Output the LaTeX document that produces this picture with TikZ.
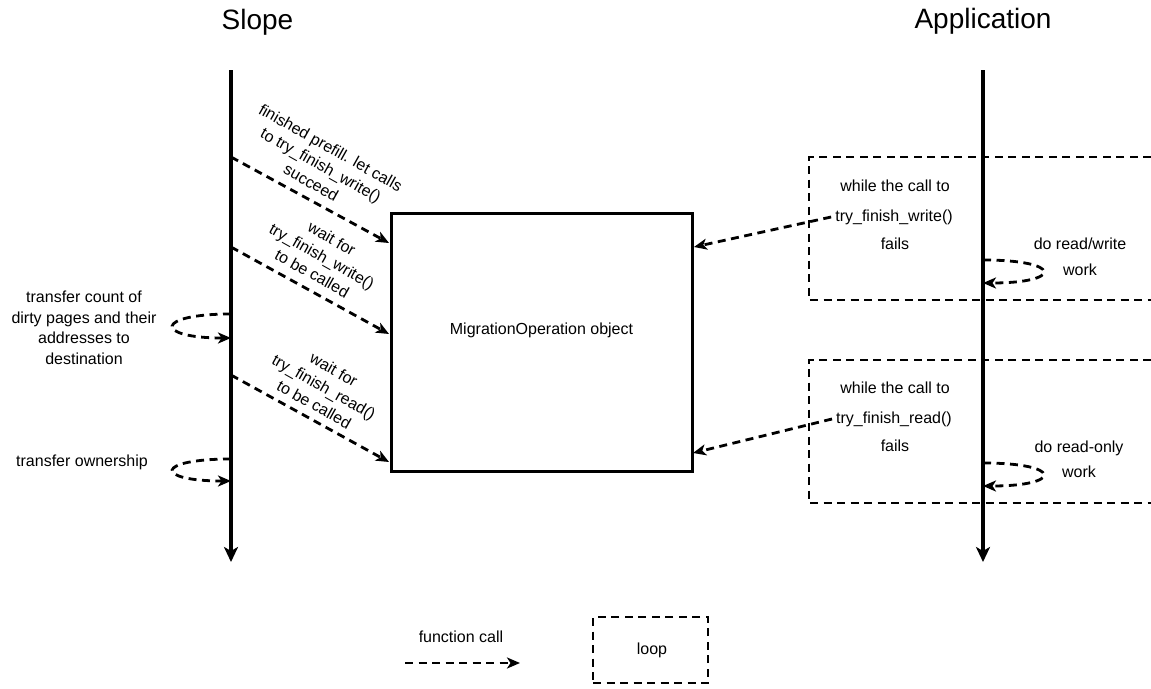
\documentclass[tikz,border=0pt]{standalone}
\usepackage{fontspec}
\setmainfont{Liberation Sans}
\usetikzlibrary{arrows.meta}

\tikzset{
  txt/.style={font=\fontsize{16}{20}\selectfont, inner sep=4pt, text height=12pt, text depth=3pt},
  mtxt/.style={font=\fontsize{16}{20}\selectfont, align=center, inner sep=0pt},
  title/.style={font=\fontsize{28}{32}\selectfont, anchor=base, inner sep=0pt},
  lifeline/.style={line width=3.2pt, -{Stealth[length=15pt,width=14pt,inset=4pt]}},
  callarrow/.style={line width=2.8pt, dash pattern=on 8pt off 5.5pt, -{Stealth[length=13pt,width=11pt,inset=3.5pt]}},
  loopbox/.style={line width=2.8pt, dash pattern=on 8pt off 5.5pt},
  objbox/.style={draw, line width=3pt, minimum width=301pt, minimum height=258pt, inner sep=0pt},
}

\begin{document}
\begin{tikzpicture}[x=1pt, y=-1pt]
  \useasboundingbox (0,0) rectangle (1151,688);

  % participants
  \node[title] (slope) at (257.5,29) {Slope};
  \node[title] (app) at (983,28) {Application};

  \coordinate (stop) at (231,70);
  \coordinate (sbot) at (231,562);
  \coordinate (atop) at (983,70);
  \coordinate (abot) at (983,562);
  \draw[lifeline] (stop) -- (sbot);
  \draw[lifeline] (atop) -- (abot);

  % shared object
  \node[objbox] (mig) at (541.5,342) {};
  \node[txt] (migtxt) at (541.5,330) {MigrationOperation object};

  % calls from Slope into the object
  \coordinate (s1) at (231,157);
  \coordinate (m1) at (389,243);
  \coordinate (s2) at (231,247);
  \coordinate (m2) at (389,334);
  \coordinate (s3) at (231,375);
  \coordinate (m3) at (389,462);
  \draw[callarrow] (s1) -- (m1);
  \draw[callarrow] (s2) -- (m2);
  \draw[callarrow] (s3) -- (m3);

  \node[mtxt, rotate=-29.3] (l1) at (321,165) {finished prefill. let calls\\to try\_finish\_write()\\succeed};
  \node[mtxt, rotate=-29.3] (l2) at (322,256) {wait for\\try\_finish\_write()\\to be called};
  \node[mtxt, rotate=-29.3] (l3) at (324,387) {wait for\\try\_finish\_read()\\to be called};

  % Slope self-calls
  \coordinate (t1a) at (231,314);
  \coordinate (t1b) at (231,338);
  \coordinate (t2a) at (231,459);
  \coordinate (t2b) at (231,481);
  \draw[callarrow] (t1a) .. controls (154,314) and (154,338) .. (t1b);
  \draw[callarrow] (t2a) .. controls (154,459) and (154,481) .. (t2b);
  \node[mtxt, font=\fontsize{16}{20.5}\selectfont] (tr1) at (84,328) {transfer count of\\dirty pages and their\\addresses to\\destination};
  \node[txt] (tr2) at (82,462) {transfer ownership};

  % Application loops
  \draw[loopbox] (1151,157) -- (809,157) -- (809,300) -- (1151,300);
  \draw[loopbox] (1151,360) -- (809,360) -- (809,503) -- (1151,503);

  \node[txt] (w1a) at (895,187) {while the call to};
  \node[txt] (w1b) at (894,217) {try\_finish\_write()};
  \node[txt] (w1c) at (895,245) {fails};
  \node[txt] (w2a) at (895,389) {while the call to};
  \node[txt] (w2b) at (894,419) {try\_finish\_read()};
  \node[txt] (w2c) at (895,447) {fails};

  \coordinate (e1) at (694,247);
  \coordinate (e2) at (693,453);
  \draw[callarrow] (w1b.west) -- (e1);
  \draw[callarrow] (w2b.west) -- (e2);

  % Application self-calls
  \coordinate (r1a) at (983,260);
  \coordinate (r1b) at (983,283);
  \coordinate (r2a) at (983,463);
  \coordinate (r2b) at (983,486);
  \draw[callarrow] (r1a) .. controls (1063,260) and (1063,283) .. (r1b);
  \draw[callarrow] (r2a) .. controls (1063,463) and (1063,486) .. (r2b);
  \node[txt] (rw1) at (1080,245) {do read/write};
  \node[txt] (rw2) at (1080,271) {work};
  \node[txt] (ro1) at (1079,448) {do read-only};
  \node[txt] (ro2) at (1079,473) {work};

  % legend
  \node[txt] (lgtxt) at (461,638) {function call};
  \coordinate (lga) at (405,663);
  \coordinate (lgb) at (520,663);
  \draw[callarrow] (lga) -- (lgb);
  \node[loopbox, draw, minimum width=115pt, minimum height=66pt, inner sep=0pt] (lgbox) at (650.5,650) {};
  \node[txt] (lgloop) at (652,650) {loop};
\end{tikzpicture}
\end{document}
